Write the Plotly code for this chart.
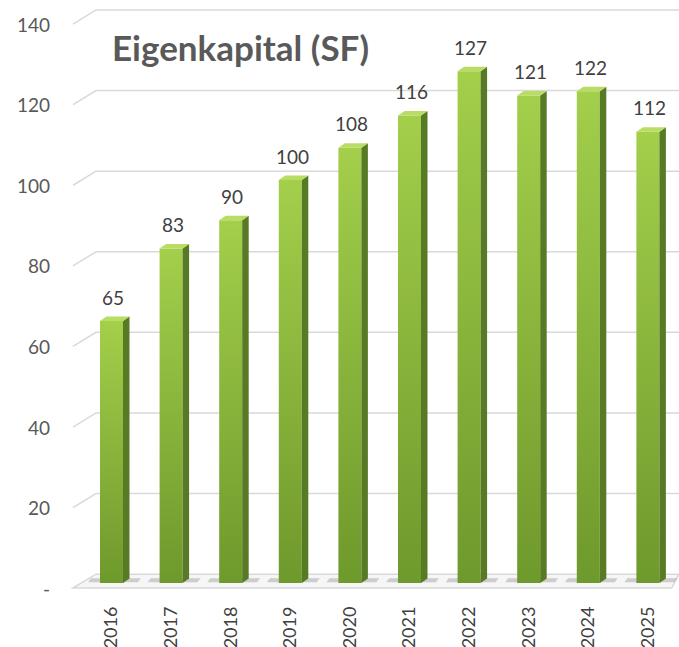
import plotly.graph_objects as go

YEARS = ["2016", "2017", "2018", "2019", "2020", "2021", "2022", "2023", "2024", "2025"]
EQUITY = [65, 83, 90, 100, 108, 116, 127, 121, 122, 112]
Y_TICKS = [0, 20, 40, 60, 80, 100, 120, 140]
Y_TICK_TEXT = ["-", "20", "40", "60", "80", "100", "120", "140"]
TITLE = "Eigenkapital (SF)"

# plot-area scale (pixels per data unit) used for the fake 3D depth
PX_X = 59.6
PX_Y = 4.03
HALF_W = 11.5 / PX_X
DEPTH_X = 6.5 / PX_X
DEPTH_Y = 4.5 / PX_Y
X_RANGE = [-0.864, 9.522]
Y_RANGE = [-1.737, 144.67]

FRONT_TOP = "#a3cf4b"
FRONT_BOTTOM = "#6e992c"
SIDE = "#577a24"
TOP = "#b9dc63"
GRID = "#d9d9d9"
TEXT = "#595959"
FONT = "Lato, 'Open Sans', sans-serif"

xs = list(range(len(YEARS)))

fig = go.Figure()

# back-wall gridlines with the short diagonal on the left side wall
shapes = []
for t in Y_TICKS[1:]:
    shapes.append(dict(
        type="path", xref="x", yref="y", layer="below",
        path=f"M {-0.646},{t - 1.3} L {-0.26},{t + 2.2} L {X_RANGE[1]},{t + 2.2}",
        line=dict(color=GRID, width=1.5),
    ))

# floor
shapes.append(dict(
    type="path", xref="x", yref="y", layer="below",
    path=f"M -0.646,-1.24 L -0.26,2.2 L {X_RANGE[1]},2.2 L 9.40,-1.24 Z",
    fillcolor="#f6f6f6", line=dict(color=GRID, width=1.5),
))

for x, v in zip(xs, EQUITY):
    l, r = x - HALF_W, x + HALF_W
    # soft shadow on the floor
    fig.add_trace(go.Scatter(
        x=[l - 0.2, r + 0.25, r + 0.3, l - 0.15, l - 0.2],
        y=[0.2, 0.2, 1.2, 1.2, 0.2],
        fill="toself", mode="lines", line=dict(width=0),
        fillcolor="rgba(110,110,110,0.3)", hoverinfo="skip", showlegend=False,
    ))
    # front face
    fig.add_trace(go.Scatter(
        x=[l, r, r, l, l], y=[0, 0, v, v, 0],
        fill="toself", mode="lines", line=dict(width=0),
        fillgradient=dict(type="vertical",
                          colorscale=[[0, FRONT_BOTTOM], [1, FRONT_TOP]]),
        hoverinfo="skip", showlegend=False,
    ))
    # side face
    fig.add_trace(go.Scatter(
        x=[r, r + DEPTH_X, r + DEPTH_X, r, r],
        y=[0, DEPTH_Y, v + DEPTH_Y, v, 0],
        fill="toself", mode="lines", line=dict(width=0),
        fillcolor=SIDE, hoverinfo="skip", showlegend=False,
    ))
    # top face
    fig.add_trace(go.Scatter(
        x=[l, r, r + DEPTH_X, l + DEPTH_X, l],
        y=[v, v, v + DEPTH_Y, v + DEPTH_Y, v],
        fill="toself", mode="lines", line=dict(width=0),
        fillcolor=TOP, hoverinfo="skip", showlegend=False,
    ))

annotations = [
    dict(x=x + 0.03, y=v, xref="x", yref="y", text=str(v), showarrow=False,
         yshift=24, font=dict(family=FONT, size=19, color="#404040"))
    for x, v in zip(xs, EQUITY)
]
annotations.append(dict(
    x=(110 - 60) / 619, y=1 - 47 / 590, xref="paper", yref="paper",
    xanchor="left", yanchor="middle", text=f"<b>{TITLE}</b>",
    showarrow=False, font=dict(family=FONT, size=35, color=TEXT),
))

fig.update_layout(
    width=679, height=647,
    margin=dict(l=60, r=0, t=0, b=57),
    paper_bgcolor="white", plot_bgcolor="white",
    shapes=shapes, annotations=annotations,
    xaxis=dict(
        range=X_RANGE, tickvals=xs, ticktext=YEARS, tickangle=-90,
        showgrid=False, zeroline=False, showline=False, ticks="",
        ticklabelstandoff=12,
        tickfont=dict(family=FONT, size=18, color="#404040"),
    ),
    yaxis=dict(
        range=Y_RANGE, tickvals=[t - 1.5 for t in Y_TICKS], ticktext=Y_TICK_TEXT,
        showgrid=False, zeroline=False, showline=False, ticks="",
        ticklabelstandoff=9,
        tickfont=dict(family=FONT, size=19, color=TEXT),
    ),
)

fig.write_html(
    "out.html",
    config={"displayModeBar": False},
    post_script="document.body.style.margin='0';",
)
